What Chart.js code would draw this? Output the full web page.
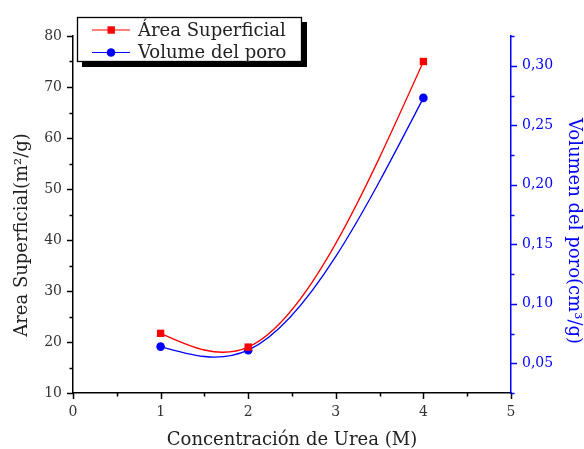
<!DOCTYPE html>
<html>
<head>
<meta charset="utf-8">
<title>Área superficial y volumen de poro</title>
<script src="https://cdn.jsdelivr.net/npm/chart.js@4.4.1/dist/chart.umd.min.js"></script>
<style>
  html, body { margin: 0; padding: 0; background: #fff; }
  #wrap { width: 584px; height: 449px; }
</style>
</head>
<body>
<div id="wrap"><canvas id="poroChart" width="584" height="449"></canvas></div>
<script>
// Urea concentration (M) and measured values
const concentracion = [1, 2, 4];
const areaSuperficial = [21.7, 19.0, 75.0];   // m2/g
const volumenPoro = [0.064, 0.061, 0.273];    // cm3/g

const xTicks = [0, 1, 2, 3, 4, 5];
const areaTicks = [10, 20, 30, 40, 50, 60, 70, 80];
const volTicks = [0.05, 0.10, 0.15, 0.20, 0.25, 0.30];

const RED = '#ff0000';
const BLUE = '#0000ff';
const FONT = "'DejaVu Serif', serif";

Chart.defaults.font.family = FONT;
Chart.defaults.color = '#222';

// Natural cubic spline through the points, written into the bezier control points
const splinePlugin = {
    id: 'naturalSpline',
    afterDatasetsUpdate(chart) {
        chart.data.datasets.forEach((ds, i) => {
            const meta = chart.getDatasetMeta(i);
            const pts = meta.data;
            const n = pts.length;
            if (!ds.spline || n < 3) return;

            const x = pts.map(p => p.x), y = pts.map(p => p.y);
            const h = [];
            for (let k = 0; k < n - 1; k++) h.push(x[k + 1] - x[k]);

            // tridiagonal solve for second derivatives (natural ends)
            const M = new Array(n).fill(0);
            const a = [], b = [], c = [], d = [];
            for (let k = 1; k < n - 1; k++) {
                a.push(h[k - 1]);
                b.push(2 * (h[k - 1] + h[k]));
                c.push(h[k]);
                d.push(6 * ((y[k + 1] - y[k]) / h[k] - (y[k] - y[k - 1]) / h[k - 1]));
            }
            const m = b.length;
            for (let k = 1; k < m; k++) {
                const w = a[k] / b[k - 1];
                b[k] -= w * c[k - 1];
                d[k] -= w * d[k - 1];
            }
            for (let k = m - 1; k >= 0; k--) {
                M[k + 1] = (d[k] - (k < m - 1 ? c[k] * M[k + 2] : 0)) / b[k];
            }

            for (let k = 0; k < n - 1; k++) {
                const s = (y[k + 1] - y[k]) / h[k];
                const d0 = s - h[k] * (2 * M[k] + M[k + 1]) / 6;
                const d1 = s + h[k] * (M[k] + 2 * M[k + 1]) / 6;
                pts[k].cp2x = x[k] + h[k] / 3;
                pts[k].cp2y = y[k] + d0 * h[k] / 3;
                pts[k + 1].cp1x = x[k + 1] - h[k] / 3;
                pts[k + 1].cp1y = y[k + 1] - d1 * h[k] / 3;
            }
            pts[0].cp1x = x[0]; pts[0].cp1y = y[0];
            pts[n - 1].cp2x = x[n - 1]; pts[n - 1].cp2y = y[n - 1];
            meta.dataset._pointsUpdated = true;
        });
    }
};

// Outward tick marks, long on labelled values and short in between
const tickMarks = {
    id: 'tickMarks',
    afterDraw(chart) {
        const ctx = chart.ctx;
        const area = chart.chartArea;
        const marks = [
            { scale: chart.scales.x, color: '#000', side: 'bottom' },
            { scale: chart.scales.y, color: '#000', side: 'left' },
            { scale: chart.scales.y1, color: BLUE, side: 'right' }
        ];
        ctx.save();
        ctx.lineWidth = 1.5;
        marks.forEach(({ scale, color, side }) => {
            ctx.strokeStyle = color;
            scale.ticks.forEach(t => {
                const major = t.label !== '';
                const len = major ? 6 : 3.5;
                const p = Math.round(scale.getPixelForValue(t.value)) + 0.5;
                ctx.beginPath();
                if (side === 'bottom') {
                    ctx.moveTo(p, area.bottom);
                    ctx.lineTo(p, area.bottom + len);
                } else if (side === 'left') {
                    ctx.moveTo(area.left, p);
                    ctx.lineTo(area.left - len, p);
                } else {
                    ctx.moveTo(area.right, p);
                    ctx.lineTo(area.right + len, p);
                }
                ctx.stroke();
            });
        });
        ctx.restore();
    }
};

// Vertical axis titles
const yTitles = {
    id: 'yTitles',
    afterDraw(chart) {
        const ctx = chart.ctx;
        ctx.save();
        ctx.font = '18px ' + FONT;
        ctx.textAlign = 'center';
        ctx.textBaseline = 'middle';

        ctx.fillStyle = '#222';
        ctx.translate(22, 235);
        ctx.rotate(-Math.PI / 2);
        ctx.fillText('Area Superficial(m²/g)', 0, 0);
        ctx.restore();

        ctx.save();
        ctx.font = '18px ' + FONT;
        ctx.textAlign = 'center';
        ctx.textBaseline = 'middle';
        ctx.fillStyle = BLUE;
        ctx.translate(574, 231);
        ctx.rotate(Math.PI / 2);
        ctx.fillText('Volumen del poro(cm³/g)', 0, 0);
        ctx.restore();
    }
};

// Boxed legend with a drop shadow
const boxLegend = {
    id: 'boxLegend',
    afterDraw(chart) {
        const ctx = chart.ctx;
        const bx = 77, by = 17, bw = 225, bh = 45;
        ctx.save();
        ctx.fillStyle = '#000';
        ctx.fillRect(bx + 5, by + 5, bw, bh);
        ctx.fillStyle = '#fff';
        ctx.fillRect(bx, by, bw, bh);
        ctx.strokeStyle = '#000';
        ctx.lineWidth = 1.3;
        ctx.strokeRect(bx + 0.5, by + 0.5, bw - 1, bh - 1);

        ctx.font = '18px ' + FONT;
        ctx.textBaseline = 'middle';
        ctx.textAlign = 'left';
        const rows = [30, 52.5];
        chart.data.datasets.forEach((ds, i) => {
            const yy = rows[i];
            ctx.strokeStyle = ds.borderColor;
            ctx.lineWidth = 1.2;
            ctx.beginPath();
            ctx.moveTo(92, yy);
            ctx.lineTo(130, yy);
            ctx.stroke();
            ctx.fillStyle = ds.borderColor;
            if (ds.pointStyle === 'rect') {
                ctx.fillRect(107.5, yy - 3.7, 7.4, 7.4);
            } else {
                ctx.beginPath();
                ctx.arc(111, yy, 4.3, 0, Math.PI * 2);
                ctx.fill();
            }
            ctx.fillStyle = '#222';
            ctx.fillText(ds.label, 138, yy + 1);
        });
        ctx.restore();
    }
};

const ctx = document.getElementById('poroChart').getContext('2d');

new Chart(ctx, {
    type: 'line',
    data: {
        datasets: [
            {
                label: 'Área Superficial',
                data: concentracion.map((c, i) => ({ x: c, y: areaSuperficial[i] })),
                yAxisID: 'y',
                borderColor: RED,
                backgroundColor: RED,
                borderWidth: 1.3,
                pointStyle: 'rect',
                pointRadius: 5.2,
                pointBorderWidth: 0,
                tension: 0.4,
                spline: true,
                fill: false
            },
            {
                label: 'Volume del poro',
                data: concentracion.map((c, i) => ({ x: c, y: volumenPoro[i] })),
                yAxisID: 'y1',
                borderColor: BLUE,
                backgroundColor: BLUE,
                borderWidth: 1.3,
                pointStyle: 'circle',
                pointRadius: 4.3,
                pointBorderWidth: 0,
                tension: 0.4,
                spline: true,
                fill: false
            }
        ]
    },
    options: {
        responsive: false,
        animation: false,
        layout: { padding: { top: 36, left: 0, right: 0, bottom: 0 } },
        plugins: {
            legend: { display: false },
            tooltip: { enabled: false }
        },
        scales: {
            x: {
                type: 'linear',
                min: 0,
                max: 5,
                grid: { display: false, drawTicks: false },
                border: { display: true, color: '#000', width: 1.5 },
                ticks: {
                    stepSize: 0.5,
                    autoSkip: false,
                    maxRotation: 0,
                    padding: 11,
                    color: '#333',
                    font: { size: 14 },
                    callback: v => xTicks.includes(v) ? String(v) : ''
                },
                title: {
                    display: true,
                    text: 'Concentración de Urea (M)',
                    color: '#222',
                    font: { size: 18, lineHeight: 1 },
                    padding: { top: 0, bottom: 0 }
                },
                afterFit: s => { s.height = 56; }
            },
            y: {
                type: 'linear',
                position: 'left',
                min: 10,
                max: 80,
                grid: { display: false, drawTicks: false },
                border: { display: true, color: '#000', width: 1.5 },
                ticks: {
                    stepSize: 5,
                    autoSkip: false,
                    padding: 11,
                    color: '#333',
                    font: { size: 14 },
                    callback: v => areaTicks.includes(v) ? String(v) : ''
                },
                afterFit: s => { s.width = 73; }
            },
            y1: {
                type: 'linear',
                position: 'right',
                min: 0.025,
                max: 0.325,
                grid: { display: false, drawTicks: false },
                border: { display: true, color: BLUE, width: 1.5 },
                ticks: {
                    stepSize: 0.025,
                    autoSkip: false,
                    padding: 11,
                    color: BLUE,
                    font: { size: 14 },
                    callback: v => {
                        const hit = volTicks.find(t => Math.abs(t - v) < 1e-6);
                        return hit !== undefined ? hit.toFixed(2).replace('.', ',') : '';
                    }
                },
                afterFit: s => { s.width = 73; }
            }
        }
    },
    plugins: [splinePlugin, tickMarks, yTitles, boxLegend]
});
</script>
</body>
</html>
